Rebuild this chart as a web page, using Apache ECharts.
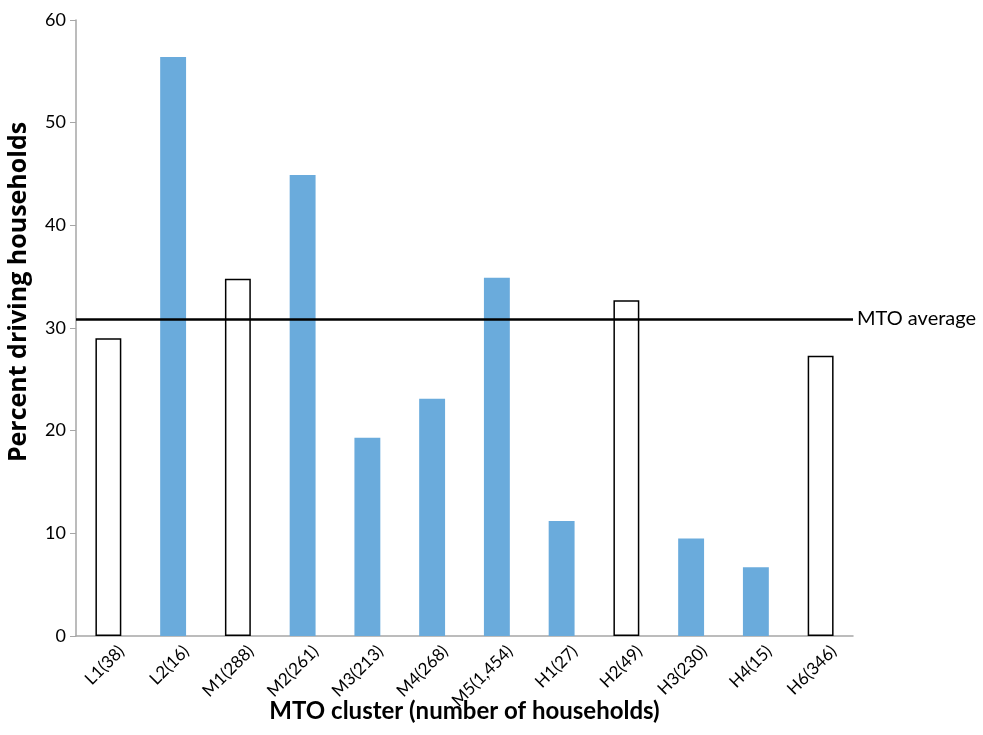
<!DOCTYPE html>
<html>
<head>
<meta charset="utf-8">
<script src="https://cdn.jsdelivr.net/npm/echarts@6/dist/echarts.min.js"></script>
<style>
  html, body { margin: 0; padding: 0; background: #fff; }
  #chart { width: 983px; height: 735px; }
</style>
</head>
<body>
<div id="chart"></div>
<script>
var categories = ['L1(38)', 'L2(16)', 'M1(288)', 'M2(261)', 'M3(213)', 'M4(268)',
                  'M5(1,454)', 'H1(27)', 'H2(49)', 'H3(230)', 'H4(15)', 'H6(346)'];
var percentDriving = [29.0, 56.4, 34.8, 44.9, 19.3, 23.1, 34.9, 11.2, 32.7, 9.5, 6.7, 27.3];
// clusters drawn as hollow (outlined) bars
var hollow = ['L1(38)', 'M1(288)', 'H2(49)', 'H6(346)'];
var mtoAverage = 30.9;
var yTicks = [0, 10, 20, 30, 40, 50, 60];

var font = 'Lato, "Open Sans", sans-serif';

var barData = percentDriving.map(function (v, i) {
  var isHollow = hollow.indexOf(categories[i]) >= 0;
  return {
    value: v,
    itemStyle: isHollow
      ? { color: '#ffffff', borderColor: '#000000', borderWidth: 1.5 }
      : { color: '#6aabdc' }
  };
});

var myChart = echarts.init(document.getElementById('chart'));
myChart.setOption({
  animation: false,
  grid: { left: 76, right: 130, top: 20, bottom: 99, containLabel: false, outerBoundsMode: 'none' },
  xAxis: {
    type: 'category',
    data: categories,
    name: 'MTO cluster (number of households)',
    nameLocation: 'middle',
    nameGap: 63,
    nameMoveOverlap: false,
    nameTextStyle: { fontFamily: font, fontSize: 24, fontWeight: 'bold', color: '#000' },
    axisLine: { lineStyle: { color: '#a6a6a6', width: 1.5 } },
    axisTick: { length: 6, lineStyle: { color: '#a6a6a6' } },
    axisLabel: {
      rotate: 45, fontFamily: font, fontSize: 17, color: '#000', margin: 12,
      verticalAlign: 'top', lineHeight: 19,
      padding: [0, -9, 0, 0]
    }
  },
  yAxis: {
    type: 'value',
    min: yTicks[0],
    max: yTicks[yTicks.length - 1],
    interval: 10,
    name: 'Percent driving households',
    nameLocation: 'middle',
    nameGap: 45,
    nameMoveOverlap: false,
    nameTextStyle: {
      fontFamily: '"Open Sans", Lato, sans-serif', fontSize: 25, fontWeight: 'bold', color: '#000',
      padding: [0, 0, 0, 72]
    },
    splitLine: { show: false },
    axisLine: { show: true, lineStyle: { color: '#a6a6a6', width: 1.5 } },
    axisTick: { show: true, length: 6, lineStyle: { color: '#a6a6a6' } },
    axisLabel: { fontFamily: font, fontSize: 18, color: '#000', margin: 10 }
  },
  series: [{
    type: 'bar',
    data: barData,
    barWidth: '40%',
    markLine: {
      silent: true,
      symbol: 'none',
      lineStyle: { color: '#000', width: 2.5, type: 'solid' },
      label: {
        position: 'end',
        formatter: 'MTO average',
        fontFamily: font,
        fontSize: 20,
        color: '#000',
        distance: 4
      },
      data: [{ yAxis: mtoAverage }]
    }
  }]
});
</script>
</body>
</html>
